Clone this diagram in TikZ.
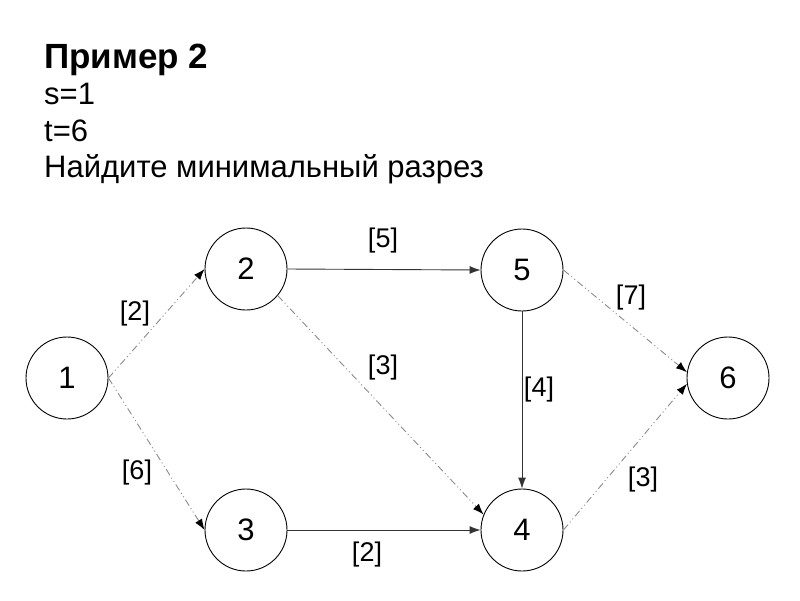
\documentclass[tikz,border=0pt]{standalone}
\usepackage{fontspec}
\setmainfont{Liberation Sans}
\usetikzlibrary{arrows.meta}
\begin{document}
\begin{tikzpicture}[x=1pt,y=-1pt,
  vertex/.style={circle,draw=black,line width=0.9pt,minimum size=82pt,inner sep=0pt,font=\fontsize{31}{31}\selectfont},
  lbl/.style={font=\fontsize{27}{27}\selectfont,inner sep=0pt},
  txt/.style={font=\fontsize{31}{31}\selectfont,anchor=base west,inner sep=0pt},
  solidedge/.style={draw=black!80,line width=0.9pt,-{Latex[length=11pt,width=8pt]}},
  dashedge/.style={draw=black!45,line width=0.9pt,dash pattern=on 7pt off 3pt on 1pt off 3pt on 1pt off 3pt,-{Latex[length=11pt,width=8pt,fill=black,color=black]}}]
\path[use as bounding box,fill=white] (0,0) rectangle (800,600);
\node[txt,font=\fontsize{35}{35}\selectfont\bfseries] (title) at (44,68) {Пример 2};
\node[txt] (s) at (44,104) {s=1};
\node[txt] (t) at (44,141) {t=6};
\node[txt] (task) at (44,177) {Найдите минимальный разрез};
\node[vertex] (n1) at (67,378) {1};
\node[vertex] (n2) at (246,269) {2};
\node[vertex] (n3) at (246,530) {3};
\node[vertex] (n4) at (522,530) {4};
\node[vertex] (n5) at (522,270) {5};
\node[vertex] (n6) at (728,378) {6};
\draw[dashedge] (n1.east) -- (n2.west);
\draw[dashedge] (n1.east) -- (n3.west);
\draw[solidedge] (n2.east) -- (n5.west);
\draw[dashedge] (n2.-40) -- (n4.158);
\draw[solidedge] (n3.east) -- (n4.west);
\draw[solidedge] (n5.south) -- (n4.north);
\draw[dashedge] (n5.east) -- (n6.172);
\draw[dashedge] (n4.east) -- (n6.188);
\node[lbl] (l12) at (135,314) {[2]};
\node[lbl] (l13) at (137,473) {[6]};
\node[lbl] (l25) at (383,241) {[5]};
\node[lbl] (l24) at (383,368) {[3]};
\node[lbl] (l56) at (631,298) {[7]};
\node[lbl] (l54) at (539,390) {[4]};
\node[lbl] (l34) at (367,555) {[2]};
\node[lbl] (l46) at (643,480) {[3]};
\end{tikzpicture}
\end{document}
